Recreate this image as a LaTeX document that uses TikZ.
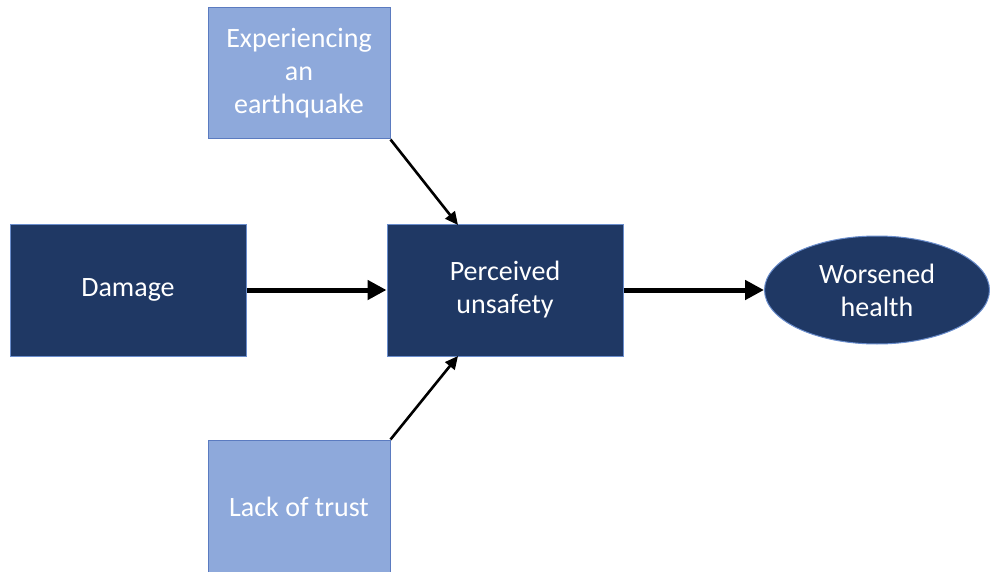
\documentclass[tikz,border=0pt]{standalone}
\usepackage{fontspec}
\setmainfont{Carlito}
\usetikzlibrary{arrows.meta,shapes.geometric}
\definecolor{lightbox}{HTML}{8EA9DB}
\definecolor{lightedge}{HTML}{5B7BC0}
\definecolor{darkbox}{HTML}{1F3864}
\definecolor{darkedge}{HTML}{6A8DCC}
\begin{document}
\begin{tikzpicture}[x=1pt,y=-1pt,
  txt/.style={text=white,font=\fontsize{28}{33}\selectfont,align=center,inner sep=0pt},
  lbox/.style={txt,fill=lightbox,draw=lightedge,line width=1pt,minimum width=182pt,minimum height=131pt},
  dbox/.style={txt,fill=darkbox,draw=darkedge,line width=1pt,minimum width=236pt,minimum height=132pt},
  thick arrow/.style={line width=5pt,-{Triangle[length=19pt,width=19pt]}},
  thin arrow/.style={line width=2.6pt,-{Triangle[length=13pt,width=12pt]}}]
\useasboundingbox (0,0) rectangle (990,572);
\node[lbox] (exp) at (299,73.5) {Experiencing\\an\\earthquake};
\node[dbox] (dam) at (128,290) {Damage};
\node[dbox] (per) at (505,290) {Perceived\\unsafety};
\node[txt,ellipse,fill=darkbox,draw=darkedge,line width=1pt,minimum width=225pt,minimum height=108pt] (wor) at (877,290) {Worsened\\health};
\node[lbox,minimum height=133pt] (lack) at (299,506.5) {Lack of trust};
\coordinate (pt) at (458,225);
\coordinate (pb) at (458,356);
\draw[thick arrow] (dam.east) -- (per.west);
\draw[thick arrow] (per.east) -- (wor.west);
\draw[thin arrow] (exp.south east) -- (pt);
\draw[thin arrow] (lack.north east) -- (pb);
\end{tikzpicture}
\end{document}
